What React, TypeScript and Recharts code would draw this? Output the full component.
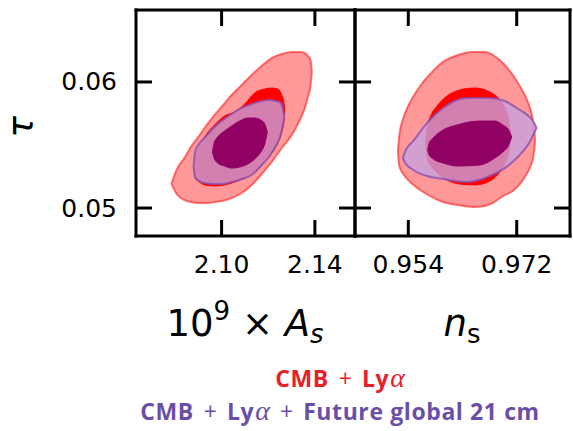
import { ComposedChart, Area, XAxis, YAxis } from 'recharts';

// each contour: [x, lower tau, upper tau]
type Pt = [number, number, number];

const asTicks = [2.1, 2.14];
const nsTicks = [0.954, 0.972];
const tauTicks = [0.05, 0.06];

const asDomain = [2.0633, 2.1572];
const nsDomain = [0.94515, 0.98085];
const tauDomain = [0.04778, 0.06571];

// left panel: tau vs 10^9 A_s
const asRedOuter: Pt[] = [
  [2.0785, 0.0519, 0.0519], [2.0798, 0.05143, 0.05262], [2.0811, 0.05103, 0.05317],
  [2.0841, 0.05063, 0.05397], [2.0871, 0.05048, 0.05492], [2.0897, 0.0504, 0.05556],
  [2.094, 0.0504, 0.05667], [2.097, 0.05048, 0.05738], [2.1, 0.05056, 0.05802],
  [2.1043, 0.05079, 0.05897], [2.1086, 0.05119, 0.05976], [2.1129, 0.05183, 0.06056],
  [2.1172, 0.0527, 0.06127], [2.1215, 0.05365, 0.0619], [2.1258, 0.05476, 0.06222],
  [2.1301, 0.05579, 0.06238], [2.1335, 0.05698, 0.06238], [2.1357, 0.05794, 0.0623],
  [2.137, 0.05881, 0.06206], [2.1381, 0.05968, 0.06175], [2.1387, 0.06079, 0.06079],
];
const asRedInner: Pt[] = [
  [2.0882, 0.05317, 0.05317], [2.0888, 0.05238, 0.05421], [2.0905, 0.05206, 0.05492],
  [2.0927, 0.05183, 0.05563], [2.097, 0.05175, 0.05659], [2.1013, 0.05183, 0.0573],
  [2.1056, 0.05206, 0.05762], [2.1099, 0.05238, 0.05825], [2.1142, 0.05286, 0.05913],
  [2.1185, 0.05365, 0.05944], [2.1215, 0.05437, 0.05952], [2.1241, 0.05516, 0.05944],
  [2.1258, 0.05603, 0.05897], [2.1267, 0.05683, 0.05841], [2.1271, 0.05762, 0.05762],
];
const asPurpleOuter: Pt[] = [
  [2.088, 0.05333, 0.05333], [2.0886, 0.05246, 0.05444], [2.0897, 0.05222, 0.05492],
  [2.0927, 0.05198, 0.05556], [2.097, 0.0519, 0.05643], [2.1, 0.0519, 0.0569],
  [2.1043, 0.05206, 0.05746], [2.1086, 0.0523, 0.05794], [2.1129, 0.05262, 0.05825],
  [2.1172, 0.05341, 0.05849], [2.1206, 0.05413, 0.05857], [2.1232, 0.05492, 0.05849],
  [2.1249, 0.05556, 0.05841], [2.126, 0.05635, 0.0581], [2.1269, 0.05722, 0.05722],
];
const asPurpleInner: Pt[] = [
  [2.0961, 0.05444, 0.05444], [2.0968, 0.05397, 0.05516], [2.0983, 0.05357, 0.05563],
  [2.1013, 0.05333, 0.05611], [2.1043, 0.05317, 0.05651], [2.1077, 0.05325, 0.0569],
  [2.1112, 0.05349, 0.05714], [2.1142, 0.05389, 0.05714], [2.1168, 0.05444, 0.05698],
  [2.1185, 0.05508, 0.05667], [2.1196, 0.05603, 0.05603],
];

// right panel: tau vs n_s
const nsRedOuter: Pt[] = [
  [0.95227, 0.05444, 0.05444], [0.95251, 0.05333, 0.05579], [0.95317, 0.0527, 0.05714],
  [0.95433, 0.05206, 0.05841], [0.95598, 0.05143, 0.05968], [0.95796, 0.05087, 0.06079],
  [0.95978, 0.05048, 0.06159], [0.96226, 0.05024, 0.06214], [0.96473, 0.05008, 0.06238],
  [0.96672, 0.05016, 0.06238], [0.96804, 0.0504, 0.06214], [0.96969, 0.05095, 0.06151],
  [0.97134, 0.05135, 0.06056], [0.9725, 0.0519, 0.05968], [0.97365, 0.0527, 0.05865],
  [0.97431, 0.05333, 0.05778], [0.97481, 0.05421, 0.05659], [0.97506, 0.0554, 0.0554],
];
const nsRedInner: Pt[] = [
  [0.95689, 0.055, 0.055], [0.95714, 0.05397, 0.05635], [0.9578, 0.05333, 0.05738],
  [0.95879, 0.05278, 0.0581], [0.96044, 0.05222, 0.05889], [0.96259, 0.0519, 0.05937],
  [0.96506, 0.05183, 0.05952], [0.96754, 0.05214, 0.05921], [0.96919, 0.05286, 0.05857],
  [0.97018, 0.05365, 0.05778], [0.97076, 0.0546, 0.05683], [0.97101, 0.05571, 0.05571],
];
const nsPurpleOuter: Pt[] = [
  [0.95309, 0.05397, 0.05397], [0.9535, 0.05357, 0.05452], [0.95483, 0.05302, 0.05532],
  [0.95714, 0.05254, 0.05675], [0.95978, 0.0523, 0.05794], [0.96374, 0.05206, 0.05873],
  [0.96754, 0.05254, 0.05873], [0.97002, 0.05317, 0.05849], [0.972, 0.05397, 0.05794],
  [0.97415, 0.05524, 0.05722], [0.97481, 0.05587, 0.05683], [0.9753, 0.05635, 0.05635],
];
const nsPurpleInner: Pt[] = [
  [0.95722, 0.0546, 0.0546], [0.95747, 0.05421, 0.05516], [0.95813, 0.05389, 0.05556],
  [0.95978, 0.05357, 0.05619], [0.96209, 0.05333, 0.05659], [0.96589, 0.05341, 0.0569],
  [0.96837, 0.05397, 0.0569], [0.96969, 0.05444, 0.05659], [0.97068, 0.055, 0.05619],
  [0.97117, 0.05563, 0.05563],
];

const toRows = (pts: Pt[]) => pts.map(([x, lo, hi]) => ({ x, range: [lo, hi] }));

const FONT = '"DejaVu Sans", sans-serif';
const TICK_LEN = 16;
const spine = { stroke: '#000', strokeWidth: 3, strokeLinecap: 'square' as const };

const BottomTick = ({ x, y, payload, digits }: any) => (
  <g>
    <line x1={x} y1={y} x2={x} y2={y - TICK_LEN} stroke="#000" strokeWidth={3} />
    <text x={x} y={y + 28} textAnchor="middle" dominantBaseline="central"
      fontSize={25} fontFamily={FONT} fill="#000">
      {payload.value.toFixed(digits)}
    </text>
  </g>
);
const TopTick = ({ x, y }: any) => (
  <line x1={x} y1={y} x2={x} y2={y + TICK_LEN} stroke="#000" strokeWidth={3} />
);
const LeftTick = ({ x, y, payload, showLabel }: any) => (
  <g>
    <line x1={x} y1={y} x2={x + TICK_LEN} y2={y} stroke="#000" strokeWidth={3} />
    {showLabel && (
      <text x={x - 19} y={y} textAnchor="end" dominantBaseline="central"
        fontSize={25} fontFamily={FONT} fill="#000">
        {payload.value.toFixed(2)}
      </text>
    )}
  </g>
);
const RightTick = ({ x, y }: any) => (
  <line x1={x} y1={y} x2={x - TICK_LEN} y2={y} stroke="#000" strokeWidth={3} />
);

// the "top"/"right" axes mirror the main ones (same domain, same range),
// the inner contours are plotted on them so that they get drawn as a frame
function Panel({ xDomain, xTicks, digits, showYLabels, width, margin, contours }: any) {
  const [redOuter, redInner, purpleOuter, purpleInner] = contours as Pt[][];
  return (
    <ComposedChart width={width} height={300} margin={margin}>
      <XAxis dataKey="x" type="number" domain={xDomain} ticks={xTicks} allowDataOverflow
        height={64} tickSize={0} tickMargin={0} tickLine={false} axisLine={spine}
        tick={(p: any) => <BottomTick {...p} digits={digits} />} interval={0} />
      <XAxis xAxisId="top" orientation="top" dataKey="x" type="number" domain={xDomain}
        ticks={xTicks} allowDataOverflow height={1} tickSize={0} tickMargin={0}
        tickLine={false} axisLine={spine} tick={(p: any) => <TopTick {...p} />} interval={0} />
      <YAxis type="number" domain={tauDomain} ticks={tauTicks} allowDataOverflow
        width={showYLabels ? 100 : 1} tickSize={0} tickMargin={0} tickLine={false}
        axisLine={spine} tick={(p: any) => <LeftTick {...p} showLabel={showYLabels} />} interval={0} />
      <YAxis yAxisId="right" orientation="right" type="number" domain={tauDomain}
        ticks={tauTicks} allowDataOverflow width={1} tickSize={0} tickMargin={0}
        tickLine={false} axisLine={spine} tick={(p: any) => <RightTick {...p} />} interval={0} />
      <Area data={toRows(redOuter)} dataKey="range" type="monotone" fill="#ff0000"
        fillOpacity={0.4} stroke="#ff2a2a" strokeOpacity={0.65} strokeWidth={2}
        dot={false} activeDot={false} isAnimationActive={false} />
      <Area data={toRows(redInner)} dataKey="range" type="monotone" fill="#ff0000"
        xAxisId="top" yAxisId="right"
        fillOpacity={1} stroke="#ff0000" strokeWidth={1}
        dot={false} activeDot={false} isAnimationActive={false} />
      <Area data={toRows(purpleOuter)} dataKey="range" type="monotone" fill="rgb(200,160,220)"
        fillOpacity={0.8} stroke="#8a4fb0" strokeOpacity={0.8} strokeWidth={2}
        dot={false} activeDot={false} isAnimationActive={false} />
      <Area data={toRows(purpleInner)} dataKey="range" type="monotone" fill="#910063"
        xAxisId="top" yAxisId="right"
        fillOpacity={1} stroke="#910063" strokeWidth={1}
        dot={false} activeDot={false} isAnimationActive={false} />
    </ComposedChart>
  );
}

const legendFont = {
  position: 'absolute' as const, textAlign: 'center' as const, lineHeight: '30px', whiteSpace: 'nowrap' as const,
  fontFamily: '"Open Sans", sans-serif', fontWeight: 700, fontSize: 23, letterSpacing: 0.6,
};
const alpha = { fontFamily: '"Liberation Serif", serif', fontStyle: 'italic' as const, fontWeight: 400, fontSize: 28, letterSpacing: 0, marginLeft: 1 };
const Plus = () => <span style={{ fontWeight: 400, margin: '0 10px', letterSpacing: 0 }}>+</span>;

export default function App() {
  return (
    <div style={{ position: 'absolute', left: 0, top: 0, width: 573, height: 431, background: '#fff', overflow: 'hidden' }}>
      <div style={{ position: 'absolute', left: 0, top: 0 }}>
        <Panel xDomain={asDomain} xTicks={asTicks} digits={2} showYLabels width={360}
          margin={{ top: 9, right: 4, left: 36, bottom: 0 }}
          contours={[asRedOuter, asRedInner, asPurpleOuter, asPurpleInner]} />
      </div>
      <div style={{ position: 'absolute', left: 340, top: 0 }}>
        <Panel xDomain={nsDomain} xTicks={nsTicks} digits={3} showYLabels={false} width={233}
          margin={{ top: 9, right: 2, left: 14, bottom: 0 }}
          contours={[nsRedOuter, nsRedInner, nsPurpleOuter, nsPurpleInner]} />
      </div>
      <svg width={573} height={431} style={{ position: 'absolute', left: 0, top: 0, pointerEvents: 'none' }}>
        <text x={20} y={127} transform="rotate(-90 20 127)" textAnchor="middle"
          dominantBaseline="central" fontSize={36} fontStyle="italic" fontFamily={FONT}>τ</text>
        <text x={245} y={336} textAnchor="middle" fontSize={37} fontFamily={FONT}>
          10<tspan fontSize={26} dy={-16}>9</tspan>
          <tspan dy={16}> × </tspan>
          <tspan fontStyle="italic">A</tspan>
          <tspan fontSize={26} fontStyle="italic" dy={7}>s</tspan>
        </text>
        <text x={462} y={336} textAnchor="middle" fontSize={37} fontFamily={FONT}>
          <tspan fontStyle="italic">n</tspan>
          <tspan fontSize={26} dy={7}>s</tspan>
        </text>
      </svg>
      <div style={{ ...legendFont, left: 130, top: 363, width: 420, color: '#e8202a' }}>
        CMB<Plus />Ly<span style={alpha}>α</span>
      </div>
      <div style={{ ...legendFont, left: 130, top: 396, width: 420, color: '#6a4fa6' }}>
        CMB<Plus />Ly<span style={alpha}>α</span><Plus />Future global 21 cm
      </div>
    </div>
  );
}
